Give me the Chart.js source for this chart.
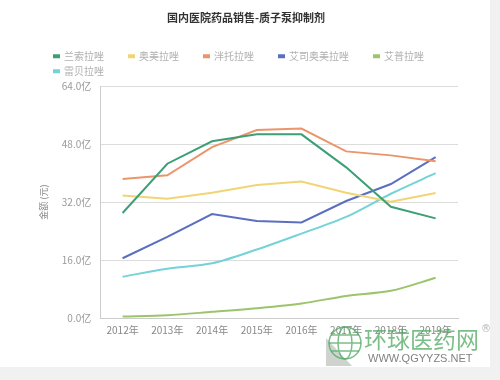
<!DOCTYPE html>
<html>
<head>
<meta charset="utf-8">
<script src="https://cdn.jsdelivr.net/npm/chart.js@4.4.0/dist/chart.umd.min.js"></script>
<style>
  body { margin: 0; background: #f1f1f1; font-family: "Noto Sans CJK SC", sans-serif; }
  .panel { position: absolute; left: 0; top: 0; width: 490px; height: 367px; background: #fff; }
</style>
</head>
<body>
<div class="panel"><canvas id="pumpChart" width="490" height="367"></canvas></div>
<script>
const years = ['2012年', '2013年', '2014年', '2015年', '2016年', '2017年', '2018年', '2019年'];
const drugNames = ['兰索拉唑', '奥美拉唑', '泮托拉唑', '艾司奥美拉唑', '艾普拉唑', '雷贝拉唑'];
const lansoprazole = [29.0, 42.6, 48.8, 50.7, 50.7, 41.6, 30.7, 27.5];
const omeprazole = [33.8, 32.9, 34.6, 36.7, 37.7, 34.6, 32.1, 34.5];
const pantoprazole = [38.4, 39.4, 47.2, 51.9, 52.3, 46.0, 44.9, 43.3];
const esomeprazole = [16.5, 22.4, 28.7, 26.8, 26.4, 32.3, 37.0, 44.4];
const ilaprazole = [0.4, 0.75, 1.7, 2.7, 4.0, 6.1, 7.5, 11.1];
const rabeprazole = [11.4, 13.6, 15.1, 18.9, 23.3, 27.9, 34.3, 40.0];
const yTicks = [0, 16, 32, 48, 64];

const seriesData = [lansoprazole, omeprazole, pantoprazole, esomeprazole, ilaprazole, rabeprazole];
const colors = ['#3d9f76', '#f1d574', '#eb956b', '#5b6fc0', '#9cc46c', '#74d3d6'];
const tensions = [0, 0, 0, 0, 0.3, 0.3];

const datasets = drugNames.map((name, i) => ({
    label: name,
    data: seriesData[i],
    borderColor: colors[i],
    backgroundColor: colors[i],
    borderWidth: 2,
    pointRadius: 0,
    tension: tensions[i],
    fill: false
}));

// legend rows sit a bit to the right of the plot's left padding
const legendShift = {
    id: 'legendShift',
    afterUpdate(chart) {
        chart.legend.left += 15;
        chart.legend.right += 15;
    }
};

// watermark in the bottom right corner
const watermark = {
    id: 'watermark',
    afterDraw(chart) {
        const c = chart.ctx;
        c.save();
        c.globalAlpha = 0.75;
        c.fillStyle = '#bfc4bf';
        c.beginPath();
        c.moveTo(326, 366); c.lineTo(326, 338); c.lineTo(352, 366);
        c.fill();
        c.strokeStyle = '#4fa860';
        c.lineWidth = 1.5;
        c.beginPath();
        c.arc(345, 343, 16, 0, Math.PI * 2);
        c.stroke();
        c.beginPath();
        c.ellipse(345, 343, 7, 16, 0, 0, Math.PI * 2);
        c.moveTo(329, 343); c.lineTo(361, 343);
        c.moveTo(331, 335); c.lineTo(359, 335);
        c.moveTo(331, 351); c.lineTo(359, 351);
        c.stroke();
        c.fillStyle = '#4fa860';
        c.font = '23px "Noto Sans CJK SC"';
        c.textBaseline = 'middle';
        c.fillText('环球医药网', 364, 339);
        c.fillStyle = '#555';
        c.font = '11px "Liberation Sans"';
        c.fillText('WWW.QGYYZS.NET', 368, 359);
        c.fillStyle = '#999';
        c.font = '10px "DejaVu Sans"';
        c.fillText('®', 481, 329);
        c.restore();
    }
};

new Chart(document.getElementById('pumpChart'), {
    type: 'line',
    data: { labels: years, datasets: datasets },
    options: {
        responsive: false,
        animation: false,
        layout: { padding: { left: 34, right: 32, top: 0, bottom: 25 } },
        plugins: {
            title: {
                display: true,
                text: '国内医院药品销售-质子泵抑制剂',
                color: '#333',
                font: { size: 11, weight: 'bold', family: '"Noto Sans CJK SC"' },
                padding: { top: 11, bottom: 22 }
            },
            legend: {
                position: 'top',
                align: 'start',
                labels: {
                    boxWidth: 5,
                    boxHeight: 2,
                    padding: 5,
                    color: '#b0b0b0',
                    font: { size: 10, family: '"Noto Sans CJK SC"' },
                    generateLabels: chart => Chart.defaults.plugins.legend.labels.generateLabels(chart)
                        .map(item => Object.assign(item, { text: item.text + '\u3000\u3000' }))
                }
            },
            tooltip: { enabled: false }
        },
        scales: {
            x: {
                offset: true,
                grid: { display: false, drawTicks: false },
                border: { color: '#ccc' },
                ticks: { color: '#888', font: { size: 10, family: '"Noto Sans CJK SC"' }, padding: 6 }
            },
            y: {
                min: 0,
                max: 64,
                afterBuildTicks: axis => { axis.ticks = yTicks.map(v => ({ value: v })); },
                grid: { color: '#dcdcdc', drawTicks: false },
                border: { color: '#ccc' },
                ticks: {
                    color: '#999',
                    font: { size: 10, family: '"Noto Sans CJK SC"' },
                    padding: 9,
                    callback: v => v.toFixed(1) + '亿'
                },
                title: {
                    display: true,
                    text: '金额 (元)',
                    color: '#888',
                    font: { size: 9, family: '"Noto Sans CJK SC"' },
                    padding: { bottom: 4 }
                }
            }
        }
    },
    plugins: [legendShift, watermark]
});
</script>
</body>
</html>
